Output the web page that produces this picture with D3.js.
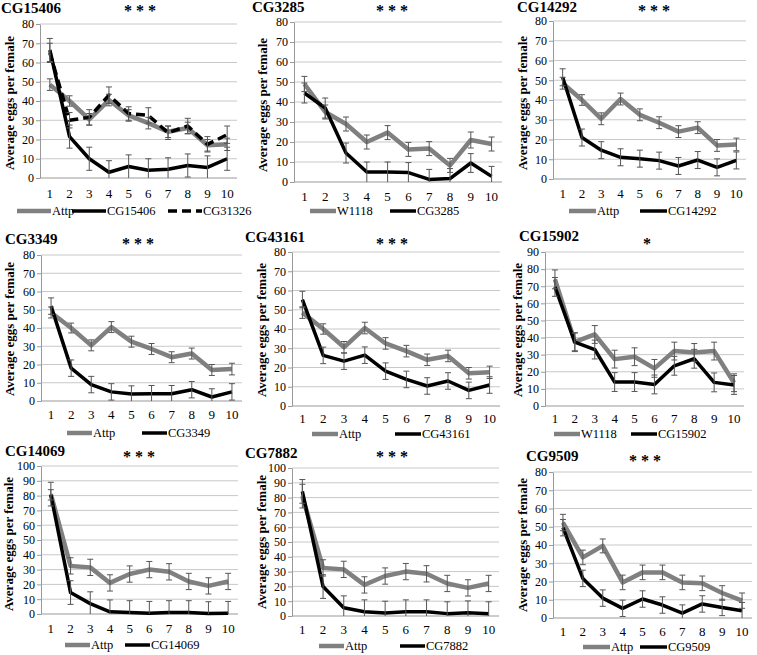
<!DOCTYPE html>
<html>
<head>
<meta charset="utf-8">
<script src="https://cdn.jsdelivr.net/npm/d3@7"></script>
<style>
	body { margin: 0; background: #fff; }
	svg, svg text { font-family: "Liberation Serif", "Times New Roman", Times, "DejaVu Serif", serif; }
</style>
</head>
<body>
<svg id="chart" width="757" height="655" font-family="Liberation Serif, Times New Roman, serif"></svg>
<script>
/* days after mating (x categories) */
const days = [1, 2, 3, 4, 5, 6, 7, 8, 9, 10];

/* controls */
const attpA    = [48.5, 40, 30.5, 40.5, 32.5, 28.5, 24, 26, 17, 17.5];
const attpAErr = [3, 2.7, 3, 3, 3, 3, 3, 3, 3, 3.2];
const attpB    = [81, 32.5, 31.5, 21, 27, 30, 28.5, 22, 19, 22];
const attpBErr = [8, 5.5, 5.5, 5.5, 5.5, 5.5, 5.5, 5.5, 5.5, 5.5];
const attpC    = [52.3, 33.2, 39.5, 19.5, 25, 25, 19.5, 19, 13.7, 9.5];
const attpCErr = [4.5, 4, 3.8, 4, 4, 4, 4, 4, 4, 4.2];
const w1118A    = [49, 35, 29, 20, 24.7, 16.3, 16.7, 8.3, 21, 19];
const w1118AErr = [3.8, 3.5, 3.5, 3.5, 3.5, 3.5, 3.5, 3.5, 4, 3.5];
const w1118B    = [74, 37.5, 41.8, 27.4, 28.8, 22, 32.1, 31.3, 32.1, 13.6];
const w1118BErr = [5.5, 5.2, 5.2, 5.2, 5.2, 5.2, 5.2, 5.2, 5.2, 5.2];

/* knockdowns */
const cg15406    = [66.5, 21.5, 10, 3, 6, 4, 4.5, 6.5, 5.5, 10];
const cg15406Err = [6, 6, 6, 6, 6, 6, 6, 6, 6, 6];
const cg31326    = [65, 30, 31.5, 43, 33.5, 32.5, 23.5, 27, 17.5, 22.5];
const cg31326Err = [5, 4, 4, 4.3, 3.5, 4, 3.5, 4, 4, 4.5];
const cg3285     = [44.5, 37, 14.5, 5, 5, 4.7, 1.3, 1.7, 9.5, 2.8];
const cg3285Err  = [5, 5, 5, 5, 5, 5, 5, 5, 4.7, 5];
const cg14292    = [51.5, 21, 14.6, 11, 10.3, 9.3, 6.6, 9.6, 5.9, 9.4];
const cg14292Err = [4.3, 4.3, 4.3, 4.3, 4.3, 4.3, 4.3, 4.3, 4.3, 4.3];
const cg3349     = [52, 18, 9, 5, 3.8, 4, 4, 6.2, 2.2, 5];
const cg3349Err  = [4.5, 4.5, 4.5, 4.5, 4.5, 4.5, 4.5, 4.5, 4.5, 4.5];
const cg43161    = [55.3, 26.3, 23.3, 26.4, 18.1, 13.8, 10.4, 13, 8.1, 10.9];
const cg43161Err = [4.3, 4.3, 4.3, 4.3, 4.3, 4.3, 4.3, 4.3, 4.3, 4.3];
const cg15902    = [69.6, 37.3, 33, 14, 14, 12.6, 23.5, 27.6, 13.8, 12.3];
const cg15902Err = [5.5, 5.5, 5.5, 5.5, 5.5, 5.5, 5.5, 5.5, 5.5, 5.5];
const cg14069    = [80.5, 14.5, 7, 1.5, 1, 0.5, 1, 1, 0.3, 0.5];
const cg14069Err = [3.5, 8, 8, 8, 8, 8, 8, 8, 8, 8];
const cg7882     = [84.2, 19.9, 5.6, 2.9, 2, 2.9, 2.9, 1.6, 2.2, 1.6];
const cg7882Err  = [8, 8, 8, 8, 8, 8, 8, 8, 8, 8];
const cg9509     = [49.5, 21.7, 10.9, 5.3, 10.4, 7.1, 2.7, 7.7, 5.8, 4];
const cg9509Err  = [4.5, 4.5, 4.5, 4.5, 4.5, 4.5, 4.5, 4.5, 4.5, 4.5];

/* panel titles, significance, y max */
const titles = ["CG15406", "CG3285", "CG14292", "CG3349", "CG43161", "CG15902", "CG14069", "CG7882", "CG9509"];
const stars  = ["* * *", "* * *", "* * *", "* * *", "* * *", "*", "* * *", "* * *", "* * *"];
const yMaxes = [80, 80, 80, 80, 80, 90, 100, 100, 80];
const yLabel = "Average eggs per female";

const SERIF = '"Liberation Serif", "Times New Roman", Times, serif';
const GRAY = "#808080", BLACK = "#000";

const panelSeries = [
	[["Attp", attpA, attpAErr, GRAY], ["CG15406", cg15406, cg15406Err, BLACK], ["CG31326", cg31326, cg31326Err, BLACK, true]],
	[["W1118", w1118A, w1118AErr, GRAY], ["CG3285", cg3285, cg3285Err, BLACK]],
	[["Attp", attpA, attpAErr, GRAY], ["CG14292", cg14292, cg14292Err, BLACK]],
	[["Attp", attpA, attpAErr, GRAY], ["CG3349", cg3349, cg3349Err, BLACK]],
	[["Attp", attpA, attpAErr, GRAY], ["CG43161", cg43161, cg43161Err, BLACK]],
	[["W1118", w1118B, w1118BErr, GRAY], ["CG15902", cg15902, cg15902Err, BLACK]],
	[["Attp", attpB, attpBErr, GRAY], ["CG14069", cg14069, cg14069Err, BLACK]],
	[["Attp", attpB, attpBErr, GRAY], ["CG7882", cg7882, cg7882Err, BLACK]],
	[["Attp", attpC, attpCErr, GRAY], ["CG9509", cg9509, cg9509Err, BLACK]]
];

/* where each panel sits on the page */
const layout = [
	{ x0: 40,  x1: 237, yTop: 24,  yBot: 178, tX: 1,   tY: 13,  sX: 140, sY: 16,  lX: 9,   lY: 103, xlY: 198, lgY: 211, lgX: [17, 72, 168], lgLen: 34 },
	{ x0: 294, x1: 502, yTop: 22,  yBot: 182, tX: 252, tY: 12,  sX: 392, sY: 16,  lX: 262, lY: 105, xlY: 201, lgY: 211, lgX: [310, 390], lgLen: 26 },
	{ x0: 553, x1: 746, yTop: 21,  yBot: 179, tX: 517, tY: 12,  sX: 654, sY: 16,  lX: 522, lY: 103, xlY: 198, lgY: 211, lgX: [569, 640], lgLen: 27 },
	{ x0: 41,  x1: 242, yTop: 255, yBot: 401, tX: 5,   tY: 244, sX: 138, sY: 249, lX: 9,   lY: 329, xlY: 419, lgY: 433, lgX: [67, 142], lgLen: 25 },
	{ x0: 292, x1: 500, yTop: 252, yBot: 406, tX: 245, tY: 242, sX: 392, sY: 249, lX: 261, lY: 330, xlY: 423, lgY: 434, lgX: [312, 395], lgLen: 26 },
	{ x0: 545, x1: 744, yTop: 252, yBot: 406, tX: 519, tY: 241, sX: 647, sY: 249, lX: 517, lY: 330, xlY: 423, lgY: 434, lgX: [554, 631], lgLen: 26 },
	{ x0: 41,  x1: 238, yTop: 466, yBot: 614, tX: 5,   tY: 456, sX: 139, sY: 462, lX: 8,   lY: 544, xlY: 633, lgY: 645, lgX: [65, 125], lgLen: 25 },
	{ x0: 292, x1: 499, yTop: 468, yBot: 616, tX: 245, tY: 458, sX: 392, sY: 462, lX: 261, lY: 542, xlY: 634, lgY: 646, lgX: [319, 400], lgLen: 25 },
	{ x0: 553, x1: 752, yTop: 472, yBot: 618, tX: 526, tY: 461, sX: 645, sY: 466, lX: 522, lY: 545, xlY: 636, lgY: 647, lgX: [583, 640], lgLen: 27 }
];

const svg = d3.select("#chart");

function drawPanel(i) {
	const L = layout[i];
	const g = svg.append("g").attr("class", "panel").attr("font-family", SERIF);

	const x = d3.scalePoint().domain(days).range([L.x0, L.x1]).padding(0.5);
	const y = d3.scaleLinear().domain([0, yMaxes[i]]).range([L.yBot, L.yTop]);
	const ticks = d3.range(0, yMaxes[i] + 1, 10);

	// gridlines
	g.selectAll(".grid").data(ticks.filter(t => t > 0)).join("line")
		.attr("x1", L.x0).attr("x2", L.x1)
		.attr("y1", d => y(d)).attr("y2", d => y(d))
		.attr("stroke", "#c8c8c8").attr("stroke-width", 1);

	// y axis
	const yAxis = g.append("g")
		.attr("transform", `translate(${L.x0},0)`)
		.call(d3.axisLeft(y).tickValues(ticks).tickSize(4).tickPadding(2).tickSizeOuter(0))
		.attr("font-family", SERIF)
		.attr("font-size", 12);
	yAxis.select(".domain").attr("stroke", "#999");
	yAxis.selectAll(".tick line").attr("stroke", "#999");
	yAxis.selectAll(".tick text").attr("font-family", SERIF).attr("fill", "#000");

	// x baseline
	g.append("line")
		.attr("x1", L.x0).attr("x2", L.x1)
		.attr("y1", y(0)).attr("y2", y(0))
		.attr("stroke", "#999");

	// x labels
	g.selectAll(".xl").data(days).join("text")
		.attr("x", d => x(d)).attr("y", L.xlY)
		.attr("text-anchor", "middle")
		.attr("font-family", SERIF)
		.attr("font-size", "13px")
		.text(d => d);

	const line = d3.line().x((d, j) => x(days[j])).y(d => y(d));

	// series lines
	panelSeries[i].forEach(([name, vals, err, color, dashed]) => {
		g.append("path")
			.datum(vals)
			.attr("d", line)
			.attr("fill", "none")
			.attr("stroke", color)
			.attr("stroke-width", color === GRAY ? 4.5 : 3.5)
			.attr("stroke-linejoin", "round")
			.attr("stroke-dasharray", dashed ? "9 5" : null);
	});

	// error bars on top
	panelSeries[i].forEach(([name, vals, err]) => {
		const eb = g.append("g").attr("stroke", "#555").attr("stroke-width", 1);
		vals.forEach((v, j) => {
			const cx = x(days[j]);
			const lo = y(Math.max(0, v - err[j])), hi = y(v + err[j]);
			eb.append("line").attr("x1", cx).attr("x2", cx).attr("y1", lo).attr("y2", hi);
			eb.append("line").attr("x1", cx - 3).attr("x2", cx + 3).attr("y1", hi).attr("y2", hi);
			if (v - err[j] > 0)
				eb.append("line").attr("x1", cx - 3).attr("x2", cx + 3).attr("y1", lo).attr("y2", lo);
		});
	});

	// title + significance
	g.append("text")
		.attr("x", L.tX).attr("y", L.tY)
		.attr("font-family", SERIF)
		.attr("font-size", "15px").attr("font-weight", "bold")
		.text(titles[i]);
	g.append("text")
		.attr("x", L.sX).attr("y", L.sY)
		.attr("text-anchor", "middle")
		.attr("font-family", SERIF)
		.attr("font-size", "16px").attr("font-weight", "bold")
		.text(stars[i]);

	// y axis title
	g.append("text")
		.attr("transform", `translate(${L.lX},${L.lY}) rotate(-90)`)
		.attr("text-anchor", "middle")
		.attr("dy", "0.35em")
		.attr("font-family", SERIF)
		.attr("font-size", "13px").attr("font-weight", "bold")
		.text(yLabel);

	// legend
	panelSeries[i].forEach(([name, vals, err, color, dashed], k) => {
		const lx = L.lgX[k];
		g.append("line")
			.attr("x1", lx).attr("x2", lx + L.lgLen)
			.attr("y1", L.lgY).attr("y2", L.lgY)
			.attr("stroke", color)
			.attr("stroke-width", color === GRAY ? 4.5 : 3.5)
			.attr("stroke-dasharray", dashed ? "9 5" : null);
		g.append("text")
			.attr("x", lx + L.lgLen + 1).attr("y", L.lgY + 4)
			.attr("font-family", SERIF)
			.attr("font-size", "12.5px")
			.text(name);
	});
}

titles.forEach((t, i) => drawPanel(i));
</script>
</body>
</html>
